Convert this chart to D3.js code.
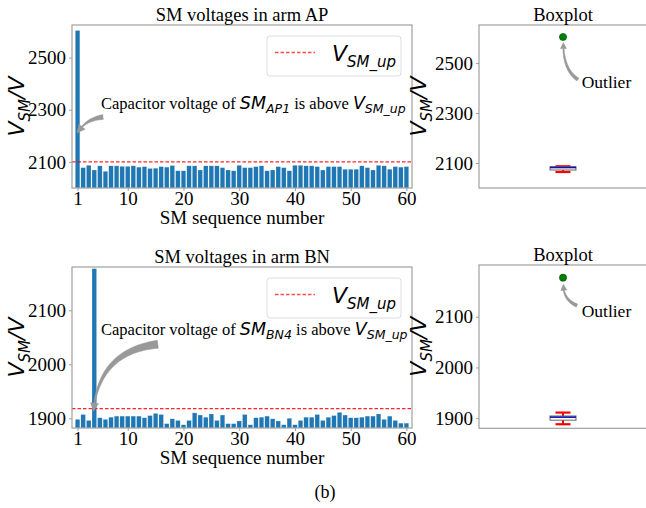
<!DOCTYPE html>
<html>
<head>
<meta charset="utf-8">
<script src="https://cdn.jsdelivr.net/npm/d3@7"></script>
<style>
  body { margin: 0; background: #fff; }
  svg { display: block; }
</style>
</head>
<body>
<div id="chart"></div>
<script>
// ── Datos ──────────────────────────────────────────────
const smIndex = d3.range(1, 61);
const armAP = [2604, 2078, 2087, 2069, 2085, 2064, 2085, 2085, 2083, 2083,
               2085, 2080, 2082, 2075, 2076, 2082, 2080, 2086, 2066, 2066,
               2085, 2085, 2069, 2085, 2085, 2085, 2078, 2069, 2066, 2087,
               2078, 2078, 2082, 2085, 2066, 2069, 2082, 2078, 2066, 2087,
               2087, 2085, 2085, 2082, 2069, 2082, 2082, 2082, 2072, 2072,
               2072, 2085, 2078, 2069, 2087, 2085, 2072, 2082, 2080, 2082];
const armBN = [1898, 1907, 1896, 2177, 1901, 1898, 1902, 1904, 1904, 1904,
               1904, 1904, 1901, 1905, 1909, 1907, 1890, 1899, 1896, 1888,
               1896, 1910, 1906, 1902, 1908, 1896, 1906, 1890, 1890, 1895,
               1907, 1888, 1901, 1902, 1904, 1899, 1895, 1888, 1900, 1888,
               1896, 1902, 1902, 1907, 1896, 1902, 1905, 1911, 1906, 1901,
               1901, 1902, 1904, 1904, 1908, 1898, 1904, 1896, 1891, 1891];
const upAP = 2100;
const upBN = 1918;
const xTicks = [1, 10, 20, 30, 40, 50, 60];
const yTicksAP = [2100, 2300, 2500];
const yTicksBN = [1900, 2000, 2100];

// ── Setup ──────────────────────────────────────────────
const W = 646, H = 508;
const BLUE = "#1f77b4";
const FRAME = "#a0a0a0";
const SERIF = "'Liberation Serif', 'Times New Roman', serif";
const MATH = "'DejaVu Sans', sans-serif";
const TICK = 19;

const svg = d3.select("#chart").append("svg").attr("width", W).attr("height", H);

// texto mixto: segmentos [texto, esMath, esSub]
function richText(g, x, y, segs, size, mathSize, subSize, anchor) {
  const t = g.append("text").attr("x", x).attr("y", y).attr("fill", "#000")
    .attr("text-anchor", anchor || "start").style("white-space", "pre");
  let wasSub = false;
  segs.forEach(([s, math, sub]) => {
    const ts = t.append("tspan").text(s)
      .attr("font-family", math ? MATH : SERIF)
      .attr("font-style", math ? "italic" : "normal")
      .attr("font-size", sub ? subSize : math ? mathSize : size);
    if (sub && !wasSub) ts.attr("dy", mathSize * 0.25);
    if (!sub && wasSub) ts.attr("dy", -mathSize * 0.25);
    wasSub = sub;
  });
  return t;
}

// flecha tipo "fancy" sobre una bezier cuadrática
function fancyArrow(g, p0, p1, p2, tailW, headL, headW) {
  const B = (t) => [
    (1 - t) * (1 - t) * p0[0] + 2 * (1 - t) * t * p1[0] + t * t * p2[0],
    (1 - t) * (1 - t) * p0[1] + 2 * (1 - t) * t * p1[1] + t * t * p2[1],
  ];
  let th = 1;
  for (let t = 1; t >= 0; t -= 0.002) {
    const q = B(t);
    if (Math.hypot(q[0] - p2[0], q[1] - p2[1]) >= headL) { th = t; break; }
  }
  const n = 40, left = [], right = [];
  for (let i = 0; i <= n; i++) {
    const t = (th * i) / n;
    const q = B(t), q2 = B(Math.min(t + 0.001, 1));
    const dx = q2[0] - q[0], dy = q2[1] - q[1], L = Math.hypot(dx, dy) || 1;
    const nx = -dy / L, ny = dx / L;
    const w = (tailW * (1 - i / n) + 1.2 * (i / n)) / 2;
    left.push([q[0] + nx * w, q[1] + ny * w]);
    right.push([q[0] - nx * w, q[1] - ny * w]);
  }
  const hb = B(th);
  const dx = p2[0] - hb[0], dy = p2[1] - hb[1], L = Math.hypot(dx, dy) || 1;
  const nx = -dy / L, ny = dx / L;
  const pts = left.concat([[hb[0] + nx * headW / 2, hb[1] + ny * headW / 2], p2,
    [hb[0] - nx * headW / 2, hb[1] - ny * headW / 2]], right.reverse());
  g.append("path").attr("d", "M" + pts.map((p) => p.join(",")).join("L") + "Z")
    .attr("fill", "#999").attr("stroke", "#999").attr("stroke-width", 0.5);
}

function frame(g, x0, x1, y0, y1) {
  g.append("rect").attr("x", x0).attr("y", y0).attr("width", x1 - x0).attr("height", y1 - y0)
    .attr("fill", "none").attr("stroke", FRAME).attr("stroke-width", 1.2);
}

function yLabel(g, cx, cy) {
  const t = g.append("g").attr("transform", `translate(${cx},${cy}) rotate(-90)`);
  richText(t, 0, 0, [["V", true, false], ["SM", true, true], ["/V", true, false]], 22, 22, 15, "middle");
}

function leftAxis(g, y, ticks, xPos) {
  const ya = g.append("g").attr("transform", `translate(${xPos},0)`)
    .call(d3.axisLeft(y).tickValues(ticks).tickFormat(d3.format("d")).tickSize(3).tickSizeOuter(0).tickPadding(3));
  ya.select(".domain").remove();
  ya.selectAll("line").attr("stroke", FRAME);
  ya.selectAll("text").attr("font-family", SERIF).attr("font-size", TICK).attr("fill", "#000");
}

// ── Bar chart ──────────────────────────────────────────
function barChart(opts) {
  const { data, up, yDomain, yTicks, box, title, subLabel, arrow, textY } = opts;
  const g = svg.append("g");
  const x = d3.scaleLinear().domain([0, 61]).range([box.l, box.r]);
  const y = d3.scaleLinear().domain(yDomain).range([box.b, box.t]);
  const bw = x(0.82) - x(0);

  g.selectAll("rect.bar").data(smIndex).join("rect").attr("class", "bar")
    .attr("x", (i) => x(i) - bw / 2).attr("width", bw)
    .attr("y", (i) => y(data[i - 1])).attr("height", (i) => box.b - y(data[i - 1]))
    .attr("fill", BLUE).attr("stroke", "#fff").attr("stroke-width", 0.4).attr("stroke-opacity", 0.5);

  g.append("line").attr("x1", box.l).attr("x2", box.r).attr("y1", y(up)).attr("y2", y(up))
    .attr("stroke", "red").attr("stroke-width", 1.3).attr("stroke-dasharray", "3.5,2").attr("opacity", 0.85);

  frame(g, box.l, box.r, box.t, box.b);

  const xa = g.append("g").attr("transform", `translate(0,${box.b})`)
    .call(d3.axisBottom(x).tickValues(xTicks).tickSize(3).tickSizeOuter(0).tickPadding(1));
  xa.select(".domain").remove();
  xa.selectAll("line").attr("stroke", FRAME);
  xa.selectAll("text").attr("font-family", SERIF).attr("font-size", TICK).attr("fill", "#000");

  leftAxis(g, y, yTicks, box.l);

  g.append("text").attr("x", (box.l + box.r) / 2).attr("y", box.t - 4).attr("text-anchor", "middle")
    .attr("font-family", SERIF).attr("font-size", 18.5).text(title);
  g.append("text").attr("x", (box.l + box.r) / 2).attr("y", box.b + 36).attr("text-anchor", "middle")
    .attr("font-family", SERIF).attr("font-size", 19).text("SM sequence number");
  yLabel(g, 24, (box.t + box.b) / 2);

  // leyenda
  const lg = g.append("g").attr("transform", `translate(${box.r - 145},${box.t + 11})`);
  lg.append("rect").attr("width", 134).attr("height", 40).attr("rx", 3)
    .attr("fill", "#fff").attr("stroke", "#dcdcdc");
  lg.append("line").attr("x1", 8).attr("x2", 48).attr("y1", 16.5).attr("y2", 16.5)
    .attr("stroke", "red").attr("stroke-width", 1.3).attr("stroke-dasharray", "3.5,2").attr("opacity", 0.7);
  richText(lg, 65, 25, [["V", true, false], ["SM_up", true, true]], 22, 22, 15);

  // anotación
  richText(g, 101, textY, [["Capacitor voltage of ", false, false], ["SM", true, false], [subLabel, true, true],
    [" is above ", false, false], ["V", true, false], ["SM_up", true, true]], 16.5, 17.5, 12.5);
  fancyArrow(g, [x(arrow.tail[0]), y(arrow.tail[1])], [x(arrow.ctrl[0]), y(arrow.ctrl[1])],
    [x(arrow.tip[0]), y(arrow.tip[1])], arrow.w, 8, 8);
}

// ── Boxplot ────────────────────────────────────────────
function boxPlot(opts) {
  const { data, yDomain, yTicks, box, outlierText } = opts;
  const g = svg.append("g");
  const x = d3.scaleLinear().domain([0.5, 1.5]).range([box.l, box.r]);
  const y = d3.scaleLinear().domain(yDomain).range([box.b, box.t]);
  const s = data.slice().sort(d3.ascending);
  const q1 = d3.quantile(s, 0.25), med = d3.quantile(s, 0.5), q3 = d3.quantile(s, 0.75);
  const iqr = q3 - q1;
  const inside = s.filter((v) => v >= q1 - 1.5 * iqr && v <= q3 + 1.5 * iqr);
  const lo = d3.min(inside), hi = d3.max(inside);
  const outs = s.filter((v) => v < lo || v > hi);
  const cx = x(1), bwid = 26, cap = 15;

  g.append("line").attr("x1", cx).attr("x2", cx).attr("y1", y(lo)).attr("y2", y(hi))
    .attr("stroke", "red").attr("stroke-width", 2);
  [lo, hi].forEach((v) => g.append("line").attr("x1", cx - cap / 2).attr("x2", cx + cap / 2)
    .attr("y1", y(v)).attr("y2", y(v)).attr("stroke", "red").attr("stroke-width", 2.2));
  g.append("rect").attr("x", cx - bwid / 2).attr("width", bwid).attr("y", y(q3))
    .attr("height", Math.max(y(q1) - y(q3), 2)).attr("fill", "#fff").attr("stroke", "#666").attr("stroke-width", 1);
  g.append("line").attr("x1", cx - bwid / 2).attr("x2", cx + bwid / 2).attr("y1", y(med)).attr("y2", y(med))
    .attr("stroke", "#1010b0").attr("stroke-width", 1.6);

  g.selectAll("circle.out").data(outs).join("circle").attr("class", "out")
    .attr("cx", cx).attr("cy", (d) => y(d)).attr("r", 3.6)
    .attr("fill", "green").attr("stroke", "#0a4a0a").attr("stroke-width", 0.6);

  frame(g, box.l, box.r, box.t, box.b);
  leftAxis(g, y, yTicks, box.l);

  g.append("text").attr("x", cx).attr("y", box.t - 4).attr("text-anchor", "middle")
    .attr("font-family", SERIF).attr("font-size", 18.5).text("Boxplot");
  yLabel(g, 426, (box.t + box.b) / 2);

  const o = outlierText;
  g.append("text").attr("x", x(o.pos[0])).attr("y", y(o.pos[1]))
    .attr("font-family", SERIF).attr("font-size", 17.5).text("Outlier");
  fancyArrow(g, [x(o.tail[0]), y(o.tail[1])], [x(o.ctrl[0]), y(o.ctrl[1])],
    [x(o.tip[0]), y(o.tip[1])], 3.5, 6, 6);
}

barChart({
  data: armAP, up: upAP, yDomain: [2000, 2625], yTicks: yTicksAP,
  box: { l: 72, r: 412, t: 25, b: 188 }, title: "SM voltages in arm AP", subLabel: "AP1",
  arrow: { tail: [5.56, 2272], ctrl: [2.5, 2265], tip: [0.9, 2211], w: 5 }, textY: 109,
});
barChart({
  data: armBN, up: upBN, yDomain: [1882, 2180], yTicks: yTicksBN,
  box: { l: 72, r: 412, t: 267, b: 428 }, title: "SM voltages in arm BN", subLabel: "BN4",
  arrow: { tail: [15.4, 2037], ctrl: [4.8, 2024], tip: [3.86, 1913], w: 8 }, textY: 335,
});
boxPlot({
  data: armAP, yDomain: [2000, 2652], yTicks: yTicksAP, box: { l: 479, r: 647, t: 25, b: 188 },
  outlierText: { pos: [1.111, 2400], tail: [1.089, 2434], ctrl: [1.0, 2472], tip: [1.002, 2582] },
});
boxPlot({
  data: armBN, yDomain: [1880, 2202], yTicks: yTicksBN, box: { l: 479, r: 647, t: 265, b: 428.3 },
  outlierText: { pos: [1.111, 2099], tail: [1.083, 2122], ctrl: [1.0, 2134], tip: [1.002, 2164] },
});

svg.append("text").attr("x", 325).attr("y", 498).attr("text-anchor", "middle")
  .attr("font-family", SERIF).attr("font-size", 18).text("(b)");
</script>
</body>
</html>
